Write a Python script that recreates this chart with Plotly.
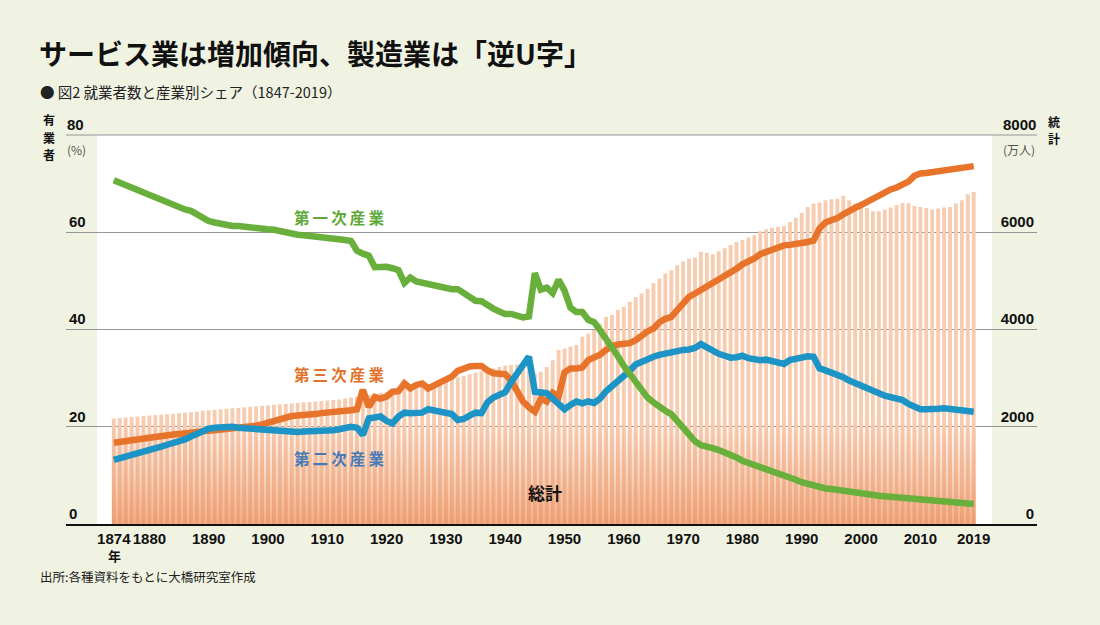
import plotly.graph_objects as go

# ---------------- data ----------------
YEARS = list(range(1874, 2020))

# 就業者数 総計 (万人)
TOTAL = [
    2170, 2180, 2190, 2200, 2210, 2220, 2230, 2240, 2250, 2260,   # 1874-1883
    2270, 2280, 2290, 2300, 2310, 2330, 2340, 2350, 2360, 2370,   # 1884-1893
    2380, 2390, 2400, 2410, 2420, 2430, 2440, 2450, 2460, 2470,   # 1894-1903
    2480, 2490, 2500, 2510, 2520, 2530, 2540, 2550, 2560, 2580,   # 1904-1913
    2600, 2620, 2640, 2660, 2680, 2700, 2720, 2740, 2760, 2780,   # 1914-1923
    2800, 2830, 2850, 2880, 2900, 2930, 2960, 2990, 3020, 3050,   # 1924-1933
    3080, 3110, 3140, 3170, 3200, 3230, 3260, 3270, 3280, 3290,   # 1934-1943
    3250, 3100, 3130, 3230, 3370, 3580, 3610, 3650, 3680, 3850,   # 1944-1953
    3920, 3990, 4120, 4260, 4300, 4400, 4470, 4570, 4670, 4740,   # 1954-1963
    4840, 4950, 5050, 5150, 5220, 5320, 5400, 5460, 5480, 5600,   # 1964-1973
    5580, 5550, 5610, 5670, 5740, 5800, 5840, 5890, 5940, 6020,   # 1974-1983
    6060, 6090, 6110, 6130, 6210, 6300, 6400, 6520, 6590, 6610,   # 1984-1993
    6660, 6680, 6690, 6750, 6660, 6590, 6540, 6500, 6430, 6430,   # 1994-2003
    6470, 6510, 6560, 6600, 6600, 6540, 6520, 6500, 6470, 6490,   # 2004-2013
    6510, 6520, 6590, 6660, 6780, 6830,                           # 2014-2019
]

# 第一次産業 シェア (%)
PRIMARY = [
    70.7, 70.2, 69.7, 69.1, 68.6, 68.0, 67.5, 67.0, 66.5, 66.0,
    65.5, 65.1, 64.7, 64.4, 63.6, 62.8, 62.3, 62.0, 61.7, 61.4,
    61.3, 61.3, 61.1, 60.9, 60.8, 60.7, 60.6, 60.5, 60.2, 59.9,
    59.7, 59.5, 59.4, 59.3, 59.2, 59.0, 58.9, 58.8, 58.6, 58.4,
    58.2, 56.2, 55.6, 55.2, 52.8, 52.9, 52.9, 52.6, 52.2, 49.6,
    50.7, 49.9, 49.6, 49.6, 49.3, 49.0, 48.5, 48.3, 48.3, 47.6,
    46.8, 45.9, 45.8, 44.9, 44.3, 43.7, 43.2, 43.2, 42.7, 42.5,
    42.7, 51.6, 48.2, 48.6, 47.5, 50.2, 48.0, 44.5, 43.6, 43.6,
    42.0, 41.5, 39.8, 38.2, 36.5, 34.5, 32.5, 30.8, 29.0, 27.6,
    26.0, 25.0, 24.0, 23.3, 22.6, 21.2, 19.5, 18.0, 17.0, 16.2,
    16.0, 15.6, 15.2, 14.8, 14.4, 13.7, 13.0, 12.6, 12.2, 11.6,
    11.3, 11.0, 10.5, 10.1, 9.6, 9.1, 8.6, 8.2, 7.9, 7.6,
    7.3, 7.2, 7.0, 6.7, 6.5, 6.3, 6.1, 6.0, 5.8, 5.8,
    5.7, 5.6, 5.5, 5.3, 5.1, 5.0, 4.8, 4.7, 4.6, 4.5,
    4.5, 4.4, 4.3, 4.3, 4.2, 4.1,
]

# 第二次産業 シェア (%)
SECONDARY = [
    13.2, 13.5, 13.8, 14.1, 14.5, 14.9, 15.2, 15.6, 15.9, 16.3,
    16.6, 17.0, 17.4, 18.0, 18.6, 19.2, 19.6, 19.8, 19.9, 20.0,
    20.0, 19.8, 19.7, 19.6, 19.4, 19.3, 19.3, 19.2, 19.1, 18.9,
    18.8, 18.9, 19.0, 19.0, 19.1, 19.1, 19.2, 19.3, 19.5, 19.7,
    20.0, 19.8, 18.3, 21.7, 22.0, 22.1, 21.2, 20.7, 22.1, 22.9,
    22.8, 22.8, 22.9, 23.6, 23.4, 23.3, 23.1, 22.6, 21.4, 21.6,
    22.3, 22.9, 22.8, 25.0, 26.0, 26.5, 27.1, 29.2, 31.0, 32.8,
    34.4, 27.2, 26.9, 26.9, 25.8, 24.6, 23.6, 24.5, 25.2, 24.8,
    25.2, 24.9, 25.8, 27.3, 28.3, 29.4, 30.5, 31.5, 32.8, 33.4,
    34.1, 34.4, 34.8, 35.1, 35.4, 35.7, 35.8, 35.9, 36.2, 37.0,
    36.3, 35.4, 35.0, 34.6, 34.2, 34.3, 34.6, 34.1, 33.8, 33.7,
    33.8, 33.6, 33.3, 32.9, 33.7, 34.0, 34.3, 34.5, 34.4, 32.0,
    31.6, 31.2, 30.7, 30.2, 29.5, 29.0, 28.5, 28.0, 27.4, 26.7,
    26.4, 26.1, 25.9, 25.5, 24.7, 24.0, 23.6, 23.6, 23.8, 23.7,
    23.8, 23.6, 23.5, 23.4, 23.3, 23.1,
]

# 第三次産業 シェア (%)
TERTIARY = [
    16.7, 16.9, 17.0, 17.2, 17.4, 17.6, 17.8, 17.9, 18.1, 18.2,
    18.4, 18.5, 18.7, 18.8, 18.9, 19.1, 19.2, 19.3, 19.4, 19.5,
    19.6, 19.7, 19.7, 19.9, 20.2, 20.5, 20.9, 21.3, 21.6, 21.9,
    22.2, 22.3, 22.3, 22.4, 22.6, 22.8, 22.9, 22.9, 22.9, 23.0,
    23.4, 23.6, 27.6, 24.1, 26.1, 25.8, 26.2, 27.2, 27.3, 28.9,
    27.9, 28.6, 28.9, 27.9, 28.5, 28.9, 29.8, 30.3, 31.5, 32.0,
    32.4, 32.5, 32.5, 31.6, 31.0, 30.9, 30.8, 29.5, 27.6, 25.2,
    24.0, 23.1, 25.8, 25.2, 27.0, 26.2, 31.2, 32.0, 32.0, 32.2,
    33.7, 34.3, 34.8, 35.8, 36.6, 36.9, 37.1, 37.2, 37.8, 38.9,
    39.6, 40.2, 41.5, 42.2, 42.6, 44.0, 45.6, 46.7, 47.4, 48.1,
    48.9, 49.8, 50.5, 51.2, 51.9, 52.5, 53.4, 53.9, 54.6, 55.5,
    55.9, 56.5, 57.0, 57.3, 57.4, 57.5, 57.8, 58.0, 58.3, 60.8,
    62.0, 62.4, 62.9, 63.7, 64.2, 65.0, 65.6, 66.3, 67.0, 67.6,
    68.1, 68.8, 69.2, 69.8, 70.4, 71.6, 72.1, 72.2, 72.4, 72.4,
    72.6, 72.9, 73.1, 73.2, 73.4, 73.6,
]

X_TICKS = [1874, 1880, 1890, 1900, 1910, 1920, 1930, 1940, 1950,
           1960, 1970, 1980, 1990, 2000, 2010, 2019]
X_TICK_TEXT = [str(v) for v in X_TICKS]
LEFT_TICKS = [0, 20, 40, 60]
RIGHT_TICKS = [0, 2000, 4000, 6000]
LEFT_TOP, RIGHT_TOP = 80, 8000

TITLE = "サービス業は増加傾向、製造業は「逆U字」"
SUBTITLE = "● 図2 就業者数と産業別シェア（1847-2019）"
SOURCE = "出所:各種資料をもとに大橋研究室作成"

# ---------------- style ----------------
BG = "#f0f3e2"
GREEN = "#68b03b"
ORANGE = "#e8742b"
BLUE = "#1c94c6"
BAR_COLOR = "#f7cdb2"
BAR_W = 0.66
GRID = "#959595"
JP = "Noto Sans CJK JP"
NUM = "Liberation Sans, Arial, sans-serif"

W, H = 1100, 625
PL, PR, PT, PB = 66, 1037, 135, 524          # plot box in pixels
X_RANGE = [1865.94, 2029.67]
WHITE_X = [1871.2, 2022.1]
GRAD_TOP = 2150


def px_x(p):
    return (p - PL) / (PR - PL)


def px_y(p):
    return (PB - p) / (PB - PT)


fig = go.Figure()

fig.add_trace(go.Bar(
    x=YEARS, y=TOTAL, width=BAR_W, marker=dict(color=BAR_COLOR, line=dict(width=0)),
    yaxis="y", name="総計", hoverinfo="x+y", showlegend=False,
))

# vertical colour gradient at the foot of the bars (decoration)
gx0, gx1 = YEARS[0] - BAR_W / 2, YEARS[-1] + BAR_W / 2
fig.add_trace(go.Scatter(
    x=[gx0, gx1, gx1, gx0, gx0], y=[0, 0, GRAD_TOP, GRAD_TOP, 0],
    mode="none", fill="toself", yaxis="y",
    fillgradient=dict(type="vertical", start=0, stop=GRAD_TOP,
                      colorscale=[[0, "rgba(232,128,72,0.62)"],
                                  [1, "rgba(232,128,72,0)"]]),
    hoverinfo="skip", showlegend=False,
))

for vals, col, nm in [(TERTIARY, ORANGE, "第三次産業"),
                      (SECONDARY, BLUE, "第二次産業"),
                      (PRIMARY, GREEN, "第一次産業")]:
    fig.add_trace(go.Scatter(
        x=YEARS, y=vals, mode="lines", yaxis="y2", name=nm,
        line=dict(color=col, width=6.5), showlegend=False,
    ))

tickfont = dict(family=NUM, size=15, color="#111", weight="bold")

fig.update_layout(
    width=W, height=H, autosize=False,
    paper_bgcolor=BG, plot_bgcolor=BG,
    margin=dict(l=PL, r=W - PR, t=PT, b=H - PB, pad=0),
    showlegend=False,
    xaxis=dict(range=X_RANGE, tickvals=X_TICKS, ticktext=X_TICK_TEXT,
               tickfont=tickfont, tickangle=0, showgrid=False, zeroline=False,
               showline=True, linecolor="#111", linewidth=2, ticks=""),
    yaxis=dict(side="right", range=[0, RIGHT_TOP], tickvals=RIGHT_TICKS,
               ticktext=[str(v) for v in RIGHT_TICKS],
               tickfont=tickfont, ticklabelposition="inside top",
               showgrid=True, gridcolor=GRID, gridwidth=1,
               zeroline=False, showline=False, ticks=""),
    yaxis2=dict(side="left", overlaying="y", range=[0, LEFT_TOP],
                tickvals=LEFT_TICKS, ticktext=[str(v) for v in LEFT_TICKS],
                tickfont=tickfont, ticklabelposition="inside top",
                showgrid=False, zeroline=False, showline=False, ticks=""),
    shapes=[
        dict(type="rect", xref="x", yref="paper", x0=WHITE_X[0], x1=WHITE_X[1],
             y0=0, y1=1, fillcolor="white", line=dict(width=0), layer="below"),
        dict(type="line", xref="paper", yref="paper", x0=0, x1=1, y0=1, y1=1,
             line=dict(color=GRID, width=1), layer="below"),
    ],
)

ann = []


def add_text(text, x, y, size, color="#111", bold=False, xanchor="center",
             yanchor="middle", family=JP):
    ann.append(dict(text=text, x=px_x(x), y=px_y(y), xref="paper", yref="paper",
                    showarrow=False, xanchor=xanchor, yanchor=yanchor,
                    borderpad=0,
                    font=dict(family=family, size=size, color=color,
                              weight="bold" if bold else "normal")))


add_text(TITLE, 38, 53, 28, bold=True, xanchor="left")
add_text(SUBTITLE, 39, 91, 14.5, color="#222", xanchor="left")
add_text(SOURCE, 39, 576, 12.5, color="#222", xanchor="left")
add_text(str(LEFT_TOP), 66, 125, 15, bold=True, xanchor="left", family=NUM)
add_text(str(RIGHT_TOP), 1037, 125, 15, bold=True, xanchor="right", family=NUM)
add_text("(%)", 66, 149, 12, color="#555", xanchor="left")
add_text("(万人)", 1036, 149, 12, color="#555", xanchor="right")
for ch, yy in zip("有業者", [120, 137.5, 155]):
    add_text(ch, 49, yy, 12, bold=True)
for ch, yy in zip("統計", [121, 138.5]):
    add_text(ch, 1054, yy, 12, bold=True)
add_text("年", 114, 555, 13, bold=True)
TS = "\u2009"
add_text(TS.join("第一次産業"), 339, 217, 15.5, color="#5ea838", bold=True)
add_text(TS.join("第三次産業"), 339, 374, 15.5, color="#e2712b", bold=True)
add_text(TS.join("第二次産業"), 339, 458, 15.5, color="#4679b8", bold=True)
add_text("総計", 545, 492, 17, bold=True)

fig.update_layout(annotations=ann)

fig.write_html("out.html", config={"displayModeBar": False},
               post_script="document.body.style.margin='0px';")
